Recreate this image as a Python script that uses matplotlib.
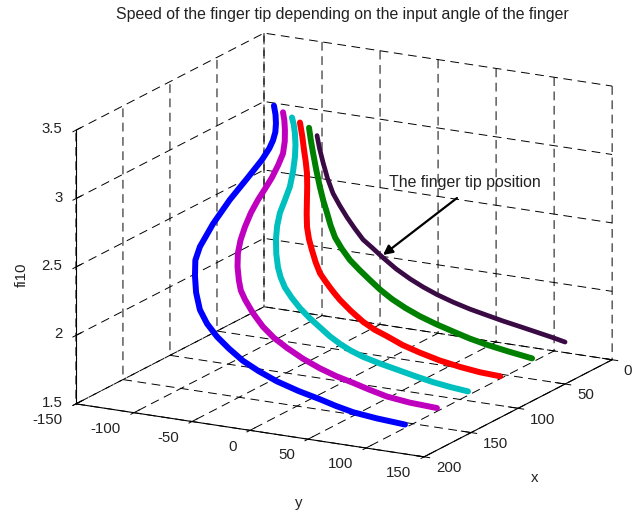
import matplotlib
matplotlib.use("Agg")
import matplotlib.pyplot as plt
from matplotlib.transforms import ScaledTranslation

plt.rcParams['font.family'] = ['Liberation Sans', 'DejaVu Sans']
plt.rcParams['font.size'] = 10.8
plt.rcParams['axes.unicode_minus'] = False
plt.rcParams['grid.color'] = 'black'
plt.rcParams['grid.linewidth'] = 0.7
plt.rcParams['grid.linestyle'] = (0, (9, 5.7))

x_blue = [100, 103, 106, 109, 112, 114.5, 117, 120, 123, 126, 129, 132, 135, 137.5, 140, 143, 146, 149, 152, 155, 158, 160.5, 163, 166, 169, 172, 175]
y_blue = [-60.4, -56.6, -53.8, -51.9, -51.5, -52.6, -56.9, -67.3, -79.7, -91.7, -100.7, -102.2, -100.1, -97.1, -91.8, -83.2, -72.2, -59.5, -45, -28.8, -10.8, 9.8, 30.3, 46.4, 63.6, 86.4, 113.3]
z_blue = [3.44, 3.39, 3.34, 3.29, 3.24, 3.19, 3.11, 2.97, 2.81, 2.63, 2.46, 2.37, 2.27, 2.16, 2.05, 1.97, 1.90, 1.84, 1.78, 1.735, 1.695, 1.66, 1.635, 1.618, 1.605, 1.60, 1.60]

x_magenta = [80, 82, 84, 86.5, 89, 91, 93, 95, 97, 99.5, 102, 104, 106, 108, 110, 112.5, 115, 117, 119, 121, 123, 125.5, 128, 130, 132, 134.5, 137, 139, 141]
y_magenta = [-68.8, -66, -63.9, -62, -61.5, -64, -67.8, -72.1, -76.6, -80.6, -83.8, -85.9, -86.6, -85.3, -82.5, -78.8, -73.2, -64.8, -54.5, -43.4, -30.5, -14.7, 2, 17.7, 33.6, 49.4, 67, 88.5, 113.3]
z_magenta = [3.31, 3.26, 3.20, 3.13, 3.05, 2.97, 2.88, 2.80, 2.72, 2.63, 2.53, 2.44, 2.35, 2.26, 2.17, 2.11, 2.06, 1.98, 1.90, 1.84, 1.79, 1.74, 1.70, 1.67, 1.65, 1.63, 1.61, 1.60, 1.60]

x_cyan = [60, 61.5, 63, 65, 67, 68.5, 70, 71.5, 73, 75, 77, 78.5, 80, 82, 84, 85.5, 87, 88.5, 90, 92, 94, 95.5, 97, 98.5, 100, 102, 104, 105.5, 107]
y_cyan = [-77.3, -74.6, -72.3, -70.2, -69, -69.4, -70.9, -74.1, -77.1, -77.9, -77.3, -75.8, -73.1, -69.2, -63.9, -56.9, -48.5, -39, -28.8, -18.7, -8.3, 2.1, 13.9, 29, 45.6, 62.7, 79.9, 96.4, 112.5]
z_cyan = [3.19, 3.15, 3.09, 3.02, 2.94, 2.84, 2.73, 2.63, 2.54, 2.45, 2.36, 2.26, 2.17, 2.11, 2.05, 1.99, 1.93, 1.875, 1.825, 1.78, 1.745, 1.715, 1.69, 1.668, 1.648, 1.63, 1.615, 1.605, 1.60]

x_red = [40, 41.5, 43, 44, 45, 46.5, 48, 49, 50, 51.5, 53, 54, 55, 56.5, 58, 59, 60, 61.5, 63, 64, 65, 66.5, 68, 69, 70, 71.5, 73]
y_red = [-86.6, -83.4, -80.7, -78.4, -76.5, -75.1, -74.1, -73.5, -72.4, -69.5, -65.7, -61.7, -57.2, -51.8, -46.1, -41.7, -35.9, -25.5, -13.6, -3, 8.7, 23.3, 39.6, 57.3, 75.7, 94.1, 112.6]
z_red = [3.07, 2.98, 2.89, 2.81, 2.73, 2.64, 2.55, 2.45, 2.36, 2.28, 2.21, 2.13, 2.06, 2.02, 1.98, 1.95, 1.91, 1.85, 1.79, 1.75, 1.72, 1.68, 1.65, 1.62, 1.60, 1.59, 1.59]

x_green = [20, 21, 22, 22.5, 23, 24, 25, 26, 27, 28, 29, 29.5, 30, 31, 32, 33, 34, 35, 36, 36.5, 37, 38, 39]
y_green = [-95, -92.7, -89.9, -86.7, -83.1, -79.4, -75.4, -71.6, -66.9, -60.3, -52.4, -43.7, -34.3, -24.5, -13.7, -1.4, 12, 26.8, 42.1, 56.5, 72.2, 91.1, 112.6]
z_green = [2.95, 2.87, 2.78, 2.66, 2.54, 2.45, 2.37, 2.29, 2.21, 2.14, 2.07, 2.01, 1.95, 1.895, 1.845, 1.80, 1.76, 1.725, 1.695, 1.665, 1.64, 1.62, 1.60]

x_dark = [0, 0, 0, 0.5, 1, 1, 1, 1.5, 2, 2, 2, 2.5, 3, 3, 3, 3.5, 4, 4, 4, 4.5, 5, 5, 5]
y_dark = [-104.3, -102.2, -99.1, -94.8, -89.7, -84, -77.6, -70.6, -63, -55, -45.8, -34.1, -21.7, -10.4, 1.6, 15.9, 30.8, 45, 59.3, 74.6, 89.4, 102.2, 113.5]
z_dark = [2.81, 2.72, 2.62, 2.51, 2.41, 2.33, 2.25, 2.18, 2.11, 2.06, 2.00, 1.935, 1.88, 1.835, 1.795, 1.76, 1.73, 1.705, 1.68, 1.66, 1.64, 1.62, 1.60]

x_ticks = [0, 50, 100, 150, 200]
y_ticks = [-150, -100, -50, 0, 50, 100, 150]
z_ticks = [1.5, 2, 2.5, 3, 3.5]
z_ticklabels = ['1.5', '2', '2.5', '3', '3.5']

W, H = 639, 513
fig = plt.figure(figsize=(W / 100, H / 100), dpi=100)
ax = fig.add_axes([31.3 / W, -44.7 / H, 609 / W, 609 / H], projection='3d', proj_type='ortho')
ax.view_init(elev=16.28, azim=28.5)
ax.set_box_aspect((394, 396, 285))

curves = [
    (x_blue, y_blue, z_blue, '#0000ff', 4.3),
    (x_magenta, y_magenta, z_magenta, '#bf00bf', 4.3),
    (x_cyan, y_cyan, z_cyan, '#00bfbf', 4.3),
    (x_red, y_red, z_red, '#ff0000', 4.3),
    (x_green, y_green, z_green, '#008000', 4.3),
    (x_dark, y_dark, z_dark, '#3a0a45', 3.4),
]
for xs, ys, zs, col, width in curves:
    ax.plot(xs, ys, zs, color=col, lw=width, solid_capstyle='round', solid_joinstyle='round')

ax.set_xlim(0, 200)
ax.set_ylim(-150, 150)
ax.set_zlim(1.5, 3.5)
ax.set_xticks(x_ticks)
ax.set_yticks(y_ticks)
ax.set_zticks(z_ticks)
ax.set_zticklabels(z_ticklabels)
ax.grid(True)

for axis in (ax.xaxis, ax.yaxis, ax.zaxis):
    axis.set_pane_color((1, 1, 1, 0))
    axis.pane.set_edgecolor('none')
    axis.line.set_color('black')
    axis.line.set_linewidth(0.8)
    axis._axinfo['tick']['inward_factor'] = 0.2
    axis._axinfo['tick']['outward_factor'] = 0.35
    axis._axinfo['tick']['linewidth'] = {True: 0.7, False: 0.5}
ax.tick_params(labelsize=10.8, labelcolor='#222222', pad=2)


def shift(artist, dx, dy):
    # move a tick label by some pixels, dy upwards. axis3d resets the transform
    # of its ticks on every get_major_ticks, so block that afterwards
    artist.set_transform(ax.transData + ScaledTranslation(dx / 100, dy / 100, fig.dpi_scale_trans))
    artist.set_transform = lambda t: None


for lab in ax.get_xticklabels():
    lab.set_ha('left')
    shift(lab, -3.5, 10)
for lab in ax.get_yticklabels():
    lab.set_ha('right')
    shift(lab, -5, 7)
for lab in ax.get_zticklabels():
    lab.set_ha('right')
    shift(lab, 10, 10)

fig.text(535 / W, 1 - 478 / H, 'x', ha='center', va='center', color='#222222')
fig.text(299 / W, 1 - 503 / H, 'y', ha='center', va='center', color='#222222')
fig.text(22 / W, 1 - 275 / H, 'fi10', ha='center', va='center', rotation=90, color='#222222')

fig.suptitle('Speed of the finger tip depending on the input angle of the finger',
             x=342 / W, y=1 - 14 / H, va='center', fontsize=11.4, color='#222222')
fig.text(465 / W, 1 - 182 / H, 'The finger tip position', ha='center', va='center',
         fontsize=11.4, color='#222222')
ax.annotate('', xy=(383, H - 255), xytext=(457, H - 198), xycoords='figure pixels',
            textcoords='figure pixels',
            arrowprops=dict(arrowstyle='-|>', color='black', lw=1.6, mutation_scale=14,
                            shrinkA=0, shrinkB=0))

fig.savefig('out.png', dpi=100)
